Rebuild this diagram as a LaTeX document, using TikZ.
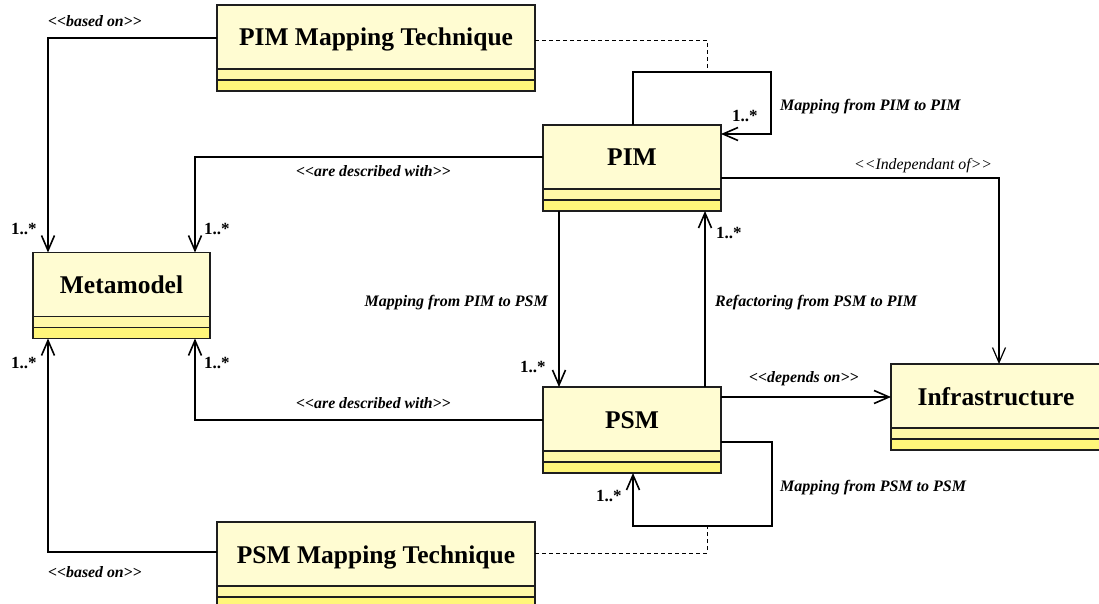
\documentclass[tikz,border=0pt]{standalone}
\usepackage{fontspec}
\setmainfont{Liberation Serif}
\usetikzlibrary{arrows.meta}
\definecolor{cup}{HTML}{FFFCD2}
\definecolor{cmid}{HTML}{FFF8A8}
\definecolor{clow}{HTML}{FFF67A}
\definecolor{boxline}{HTML}{1E1E1E}
\newcommand\llt{<\kern0pt<}
\newcommand\ggt{>\kern0pt>}
\tikzset{
  cls/.style={draw=boxline, line width=1.3pt, fill=cup, minimum height=86pt, inner sep=0pt, outer sep=0pt,
    path picture={
      \fill[cmid] ([yshift=11pt]path picture bounding box.south west) rectangle ([yshift=22pt]path picture bounding box.south east);
      \fill[clow] (path picture bounding box.south west) rectangle ([yshift=11pt]path picture bounding box.south east);
      \draw[boxline, line width=1.3pt] ([yshift=11pt]path picture bounding box.south west) -- ([yshift=11pt]path picture bounding box.south east);
      \draw[boxline, line width=1.3pt] ([yshift=22pt]path picture bounding box.south west) -- ([yshift=22pt]path picture bounding box.south east);
    }},
  clsname/.style={font=\fontsize{25.5}{28}\selectfont\bfseries, anchor=base, inner sep=0pt},
  rel/.style={line width=1.6pt, draw=black, -{Straight Barb[length=15pt,width=13pt]}},
  dashline/.style={line width=0.9pt, draw=black, dash pattern=on 4pt off 3pt},
  lbl/.style={font=\fontsize{16}{18}\selectfont\bfseries\itshape, inner sep=0pt, anchor=base west},
  ster/.style={font=\fontsize{15.8}{18}\selectfont\bfseries\itshape, inner sep=0pt, anchor=base west},
  mult/.style={font=\fontsize{17}{19}\selectfont\bfseries, inner sep=0pt, anchor=base west},
}
\begin{document}
\begin{tikzpicture}[x=1pt, y=-1pt]
\useasboundingbox (0,0) rectangle (1099,604);
% classes
\node[cls, minimum width=318pt] (pimmt) at (376,48) {};
\node[clsname] (pimmtT) at ([yshift=2pt]pimmt.center) {PIM Mapping Technique};
\node[cls, minimum width=178pt] (pim) at (632,168) {};
\node[clsname] (pimT) at ([yshift=2pt]pim.center) {PIM};
\node[cls, minimum width=177pt] (meta) at (121.5,295.5) {};
\node[clsname] (metaT) at ([yshift=2pt]meta.center) {Metamodel};
\node[cls, minimum width=178pt] (psm) at (632,430) {};
\node[clsname] (psmT) at ([yshift=2pt]psm.center) {PSM};
\node[cls, minimum width=210pt] (infra) at (996,407) {};
\node[clsname] (infraT) at ([yshift=2pt]infra.center) {Infrastructure};
\node[cls, minimum width=318pt] (psmmt) at (376,565) {};
\node[clsname] (psmmtT) at ([yshift=2pt]psmmt.center) {PSM Mapping Technique};
% helper coordinates
\coordinate (pimloop) at (707,72);
\coordinate (psmloop) at (707,526);
% connectors
\draw[rel] ([yshift=10pt]pimmt.west) -| ([xshift=-73.5pt]meta.north);
\draw[rel] ([yshift=13pt]psmmt.west) -| ([xshift=-73.5pt]meta.south);
\draw[rel] ([yshift=11pt]pim.west) -| ([xshift=73.5pt]meta.north);
\draw[rel] ([yshift=10pt]psm.west) -| ([xshift=73.5pt]meta.south);
\draw[rel] ([xshift=-73pt]pim.south) -- ([xshift=-73pt]psm.north);
\draw[rel] ([xshift=73pt]psm.north) -- ([xshift=73pt]pim.south);
\draw[rel] ([xshift=1pt]pim.north) |- (771,72) |- ([yshift=34pt]pim.east);
\draw[rel] ([yshift=-12pt]psm.east) -| (772,526) -| ([xshift=1pt]psm.south);
\draw[rel, line width=1.2pt] ([yshift=-10pt]pim.east) -| ([xshift=3pt]infra.north);
\draw[rel] ([yshift=33pt]psm.east) -- ([yshift=10pt]infra.west);
\draw[dashline] ([yshift=8pt]pimmt.east) -| (pimloop);
\draw[dashline] ([yshift=12pt]psmmt.east) -| (psmloop);
% labels
\node[ster] (l1) at (48,27) {\llt based on\ggt};
\node[ster] (l2) at (48,577) {\llt based on\ggt};
\node[ster] (l3) at (296,177) {\llt are described with\ggt};
\node[ster] (l4) at (296,408) {\llt are described with\ggt};
\node[lbl, anchor=base east] (l5) at (548,306) {Mapping from PIM to PSM};
\node[lbl] (l6) at (715,306) {Refactoring from PSM to PIM};
\node[lbl] (l7) at (780,111) {Mapping from PIM to PIM};
\node[lbl] (l8) at (780,491) {Mapping from PSM to PSM};
\node[ster, font=\fontsize{15.8}{18}\selectfont\itshape] (l9) at (854,170) {\llt Independant of\ggt};
\node[ster] (l10) at (749,382) {\llt depends on\ggt};
% multiplicities
\node[mult] (m1) at (11,234) {1..*};
\node[mult] (m2) at (204,234) {1..*};
\node[mult] (m3) at (11,368) {1..*};
\node[mult] (m4) at (204,368) {1..*};
\node[mult] (m5) at (520,372) {1..*};
\node[mult] (m6) at (716,238) {1..*};
\node[mult] (m7) at (732,122) {1..*};
\node[mult] (m8) at (596,501) {1..*};
\end{tikzpicture}
\end{document}
